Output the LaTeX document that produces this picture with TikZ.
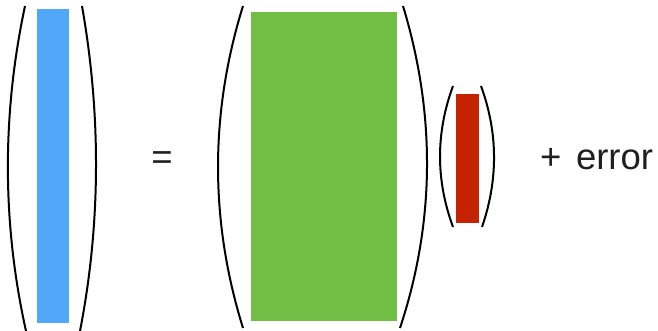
\documentclass[tikz,border=0pt]{standalone}
\usepackage{fontspec}
\setmainfont{Liberation Sans}
\definecolor{vecblue}{HTML}{52A8F8}
\definecolor{matgreen}{HTML}{70BF44}
\definecolor{coefred}{HTML}{C42200}
\begin{document}
\begin{tikzpicture}[x=1pt,y=-1pt,
  bar/.style={draw=none,inner sep=0pt,outer sep=0pt,anchor=north west},
  paren/.style={black,line width=2pt},
  bigtext/.style={inner sep=0pt,font=\fontsize{36.5}{40}\selectfont,text=black!88}]
\useasboundingbox (0,0) rectangle (658,331);
% blue vector
\node[bar,fill=vecblue,minimum width=32pt,minimum height=314pt] (y) at (37,9) {};
\draw[paren] (25,6) .. controls (2,114) and (2,223) .. (26,331);
\draw[paren] (82,6) .. controls (101,114) and (101,223) .. (80,331);
% equals
\node[bigtext] (eq) at (162,161) {=};
% green matrix
\node[bar,fill=matgreen,minimum width=146pt,minimum height=309pt] (X) at (251,12) {};
\draw[paren] (243,6) .. controls (209.7,113) and (209.7,221) .. (243,328);
\draw[paren] (403,6) .. controls (435.5,113) and (435.5,221) .. (400,328);
% red coefficient vector
\node[bar,fill=coefred,minimum width=23pt,minimum height=129pt] (b) at (456,94) {};
\draw[paren] (453,86) .. controls (435.7,133) and (435.7,180) .. (453,227);
\draw[paren] (481,86) .. controls (498.2,133) and (498.2,180) .. (482,227);
% error term
\node[bigtext,anchor=base west] (err) at (540,170) {+\hspace{0.12em} error};
\end{tikzpicture}
\end{document}
